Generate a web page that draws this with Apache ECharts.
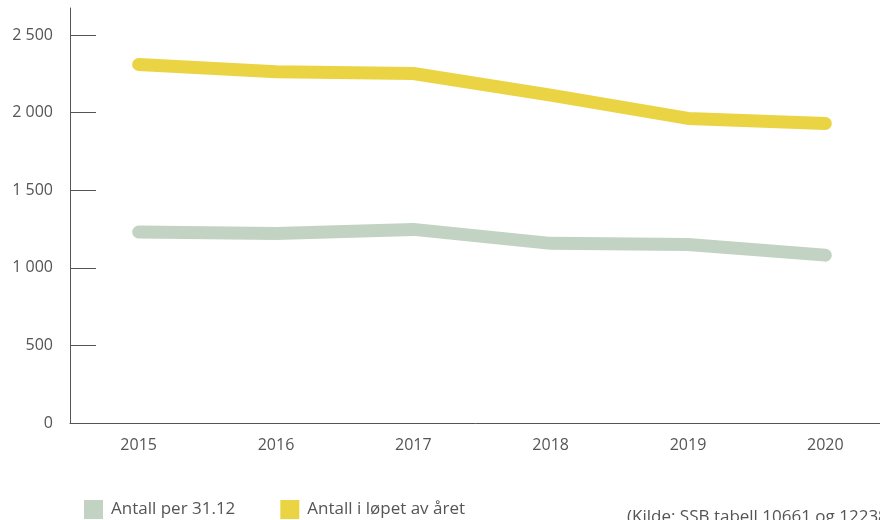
<!DOCTYPE html>
<html>
<head>
<meta charset="utf-8">
<script src="https://cdn.jsdelivr.net/npm/echarts@6/dist/echarts.min.js"></script>
<style>
  html, body { margin: 0; padding: 0; background: #fff; }
  #chart { width: 880px; height: 520px; }
</style>
</head>
<body>
<div id="chart"></div>
<script>
const years = ['2015', '2016', '2017', '2018', '2019', '2020']
const perYearEnd = [1231, 1222, 1248, 1158, 1151, 1082]
const duringYear = [2311, 2264, 2253, 2113, 1963, 1931]
const yTicks = [0, 500, 1000, 1500, 2000, 2500]
const seriesNames = ['Antall per 31.12', 'Antall i løpet av året']
const sourceText = '(Kilde: SSB tabell 10661 og 12238)'

const font = '"Open Sans", sans-serif'
const textColor = '#555'
const axisColor = '#555'

const chart = echarts.init(document.getElementById('chart'))

const option = {
  animation: false,
  textStyle: { fontFamily: font },
  grid: {
    left: 70,
    top: 8,
    bottom: 97,
    width: 824,
    outerBoundsMode: 'none',
    containLabel: false
  },
  legend: {
    left: 84,
    top: 500,
    padding: 0,
    itemWidth: 19,
    itemHeight: 19,
    itemGap: 45,
    icon: 'rect',
    textStyle: {
      color: textColor,
      fontSize: 17,
      fontFamily: font,
      padding: [0, 0, 0, 3]
    },
    data: seriesNames
  },
  xAxis: {
    type: 'category',
    data: years,
    boundaryGap: true,
    axisLine: { lineStyle: { color: axisColor, width: 1 } },
    axisTick: {
      alignWithLabel: true,
      inside: true,
      length: 23,
      lineStyle: { color: axisColor }
    },
    axisLabel: {
      color: textColor,
      fontSize: 16,
      margin: 14,
      fontFamily: font
    }
  },
  yAxis: {
    type: 'value',
    min: 0,
    max: 2675,
    splitLine: { show: false },
    axisLine: { show: true, lineStyle: { color: axisColor, width: 1 } },
    axisTick: {
      show: true,
      inside: true,
      length: 26,
      customValues: yTicks,
      lineStyle: { color: axisColor }
    },
    axisLabel: {
      color: textColor,
      fontSize: 16,
      margin: 17,
      fontFamily: font,
      customValues: yTicks,
      formatter: v => String(v).replace(/\B(?=(\d{3})+(?!\d))/g, ' ')
    }
  },
  series: [
    {
      name: seriesNames[0],
      type: 'line',
      data: perYearEnd,
      showSymbol: false,
      symbol: 'none',
      color: '#c2d3c3',
      lineStyle: { width: 13, cap: 'round', join: 'round', color: '#c2d3c3' }
    },
    {
      name: seriesNames[1],
      type: 'line',
      data: duringYear,
      showSymbol: false,
      symbol: 'none',
      color: '#ebd444',
      lineStyle: { width: 13, cap: 'round', join: 'round', color: '#ebd444' }
    }
  ],
  graphic: [
    {
      type: 'text',
      left: 627,
      top: 509,
      style: {
        text: sourceText,
        fill: textColor,
        fontSize: 17,
        fontFamily: font
      }
    }
  ]
}

chart.setOption(option)
</script>
</body>
</html>
